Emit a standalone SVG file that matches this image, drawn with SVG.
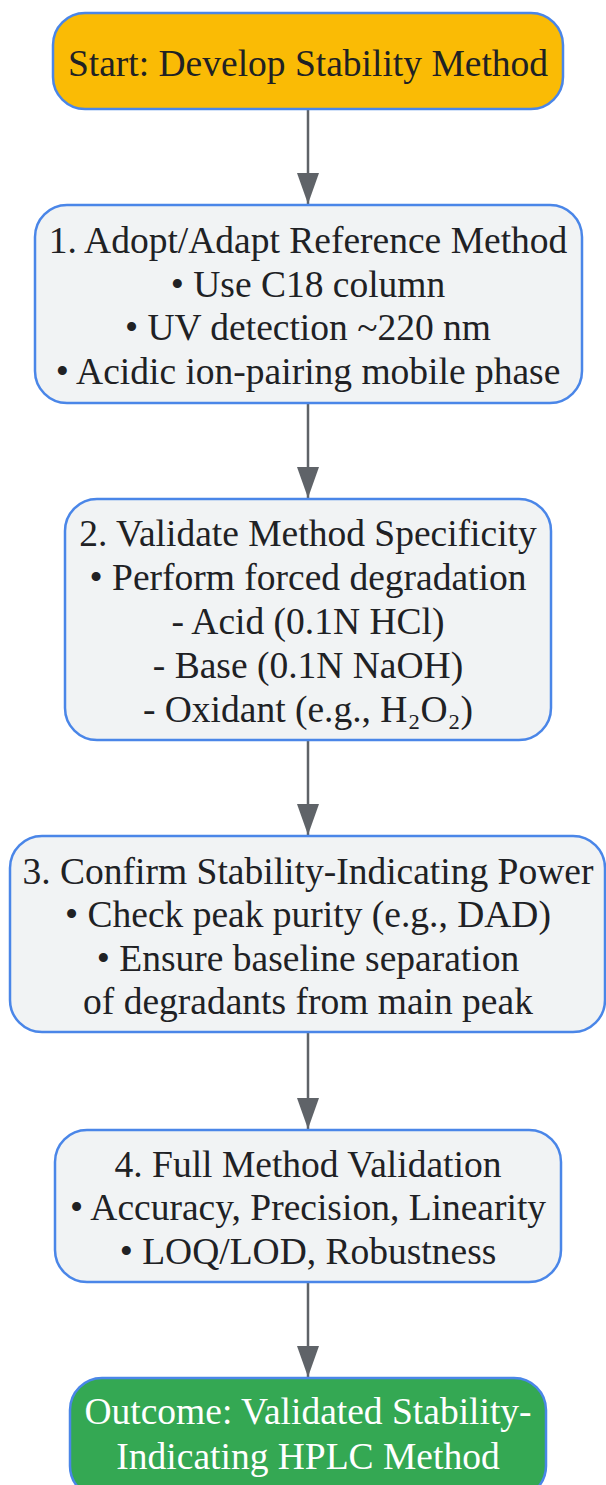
<svg xmlns="http://www.w3.org/2000/svg" width="606" height="1485" viewBox="0 0 606 1485">
<style>
.n{stroke:#4A86E8;stroke-width:2.5}
.p{fill:#F1F3F4}
.t{font-family:"Liberation Serif",serif;font-size:37.5px;fill:#202124;text-anchor:middle}
.w{fill:#FFFFFF}
.e{stroke:#5F6368;stroke-width:2.5;fill:none}
</style>
<defs>
<marker id="ah" markerWidth="31" markerHeight="22" refX="31" refY="11" orient="auto" markerUnits="userSpaceOnUse">
<path d="M0,0 L31,11 L0,22 Z" fill="#5F6368"/>
</marker>
</defs>
<g id="edges">
<line class="e" x1="308" y1="109" x2="308" y2="204" marker-end="url(#ah)"/>
<line class="e" x1="308" y1="403" x2="308" y2="498" marker-end="url(#ah)"/>
<line class="e" x1="308" y1="740" x2="308" y2="835" marker-end="url(#ah)"/>
<line class="e" x1="308" y1="1032" x2="308" y2="1129" marker-end="url(#ah)"/>
<line class="e" x1="308" y1="1282" x2="308" y2="1377" marker-end="url(#ah)"/>
</g>
<g id="start">
<rect class="n" x="53" y="13" width="510" height="96" rx="32" fill="#FABB05"/>
<text class="t" x="308" y="76">Start: Develop Stability Method</text>
</g>
<g id="step1">
<rect class="n p" x="35" y="205" width="547" height="198" rx="32"/>
<text class="t" x="308" y="253">1. Adopt/Adapt Reference Method</text>
<text class="t" x="308" y="297">• Use C18 column</text>
<text class="t" x="308" y="340">• UV detection ~220 nm</text>
<text class="t" x="308" y="384">• Acidic ion-pairing mobile phase</text>
</g>
<g id="step2">
<rect class="n p" x="65" y="499" width="486" height="241" rx="32"/>
<text class="t" x="308" y="546">2. Validate Method Specificity</text>
<text class="t" x="308" y="590">• Perform forced degradation</text>
<text class="t" x="308" y="634">- Acid (0.1N HCl)</text>
<text class="t" x="308" y="678">- Base (0.1N NaOH)</text>
<text class="t" x="308" y="722">- Oxidant (e.g., H₂O₂)</text>
</g>
<g id="step3">
<rect class="n p" x="10" y="836" width="595" height="196" rx="32"/>
<text class="t" x="308" y="884">3. Confirm Stability-Indicating Power</text>
<text class="t" x="308" y="927">• Check peak purity (e.g., DAD)</text>
<text class="t" x="308" y="971">• Ensure baseline separation</text>
<text class="t" x="308" y="1014">of degradants from main peak</text>
</g>
<g id="step4">
<rect class="n p" x="55" y="1130" width="506" height="152" rx="32"/>
<text class="t" x="308" y="1177">4. Full Method Validation</text>
<text class="t" x="308" y="1220">• Accuracy, Precision, Linearity</text>
<text class="t" x="308" y="1264">• LOQ/LOD, Robustness</text>
</g>
<g id="outcome">
<rect class="n" x="70" y="1378" width="476" height="120" rx="32" fill="#34A853"/>
<text class="t w" x="308" y="1424">Outcome: Validated Stability-</text>
<text class="t w" x="308" y="1469">Indicating HPLC Method</text>
</g>
</svg>
